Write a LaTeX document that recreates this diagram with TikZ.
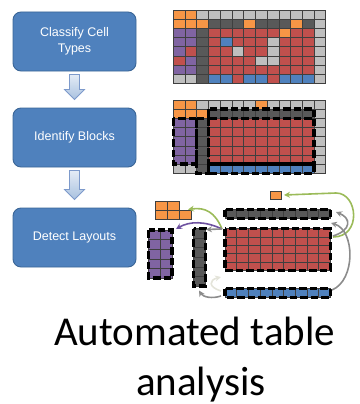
\documentclass[tikz,border=0pt]{standalone}
\usepackage{fontspec}
\setmainfont{Liberation Sans}
\newfontfamily\captionfont{Carlito}
\usetikzlibrary{arrows.meta,calc}

% cell colours
\definecolor{cO}{HTML}{F79646}
\definecolor{cG}{HTML}{BFBFBF}
\definecolor{cD}{HTML}{595959}
\definecolor{cR}{HTML}{C0504D}
\definecolor{cP}{HTML}{8064A2}
\definecolor{cB}{HTML}{4F81BD}
\definecolor{cellline}{HTML}{3F3F3F}
% flow chart colours
\definecolor{boxblue}{HTML}{4F81BD}
\definecolor{boxedge}{HTML}{3A6596}
\definecolor{arrowtop}{HTML}{E4ECF6}
\definecolor{arrowbot}{HTML}{A9C1DF}
\definecolor{arrowedge}{HTML}{7D9ACB}
\definecolor{linkgreen}{HTML}{9BBB59}
\definecolor{linkpurple}{HTML}{6E52A0}
\definecolor{linkgrey}{HTML}{8C8C8C}
\definecolor{linkfaint}{HTML}{E4E4DA}

% one row of coloured cells: x0, ytop, width, height, colour letters
\newcommand{\gridrow}[5]{%
  \foreach \c [count=\i from 0] in {#5} {
    \filldraw[fill=c\c, draw=cellline, line width=0.5pt]
      ({#1+\i*#3},{#2}) rectangle ++(#3,#4);
  }}

% hollow down arrow between two stage boxes
\newcommand{\flowdown}[2]{%
  \draw[flowarrow] let \p1=(#1.south), \p2=(#2.north) in
    (\x1-5pt,\y1-3pt) -- (\x1+5pt,\y1-3pt) -- (\x1+5pt,\y2+18pt)
    -- (\x1+10pt,\y2+18pt) -- (\x1,\y2+8pt) -- (\x1-10pt,\y2+18pt)
    -- (\x1-5pt,\y2+18pt) -- cycle;}

\tikzset{
  stage/.style={draw=boxedge, fill=boxblue, line width=0.9pt,
    rounded corners=8pt, minimum width=123pt, minimum height=59pt,
    text=white, align=center, inner sep=0pt,
    font=\fontsize{12.5}{16.5}\selectfont},
  flowarrow/.style={draw=arrowedge, line width=0.8pt,
    top color=arrowtop, bottom color=arrowbot},
  blockbox/.style={draw=black, line width=3.4pt, dash pattern=on 7.5pt off 3pt},
  link/.style={line width=1.6pt, -{Stealth[length=6pt,width=6pt]}},
  captext/.style={anchor=base, inner sep=0pt,
    font=\captionfont\fontsize{41}{50}\selectfont}
}

\begin{document}
\begin{tikzpicture}[x=1pt,y=-1pt]
\useasboundingbox (0,0) rectangle (359,404);

% ---- stages ----
\node[stage] (s1) at (74.5,41.5) {Classify Cell\\Types};
\node[stage] (s2) at (74.5,137.5) {Identify Blocks};
\node[stage] (s3) at (74.5,237.5) {Detect Layouts};
\flowdown{s1}{s2}
\flowdown{s2}{s3}

% ---- cell type grid ----
\def\cw{11.72}\def\ch{9.16}
\gridrow{173.3}{10+0*\ch}{\cw}{\ch}{O,O,G,G,G,G,G,G,G,G,G,G,G}
\gridrow{173.3}{10+1*\ch}{\cw}{\ch}{O,O,O,D,D,D,O,D,D,D,O,D,G}
\gridrow{173.3}{10+2*\ch}{\cw}{\ch}{P,P,D,R,R,R,R,R,R,O,R,R,G}
\gridrow{173.3}{10+3*\ch}{\cw}{\ch}{P,P,D,R,B,R,R,R,G,R,R,R,G}
\gridrow{173.3}{10+4*\ch}{\cw}{\ch}{P,R,D,R,R,G,R,R,G,R,R,R,G}
\gridrow{173.3}{10+5*\ch}{\cw}{\ch}{R,P,D,R,R,R,R,G,G,R,R,R,G}
\gridrow{173.3}{10+6*\ch}{\cw}{\ch}{P,P,D,R,R,R,R,R,R,R,R,R,G}
\gridrow{173.3}{10+7*\ch}{\cw}{\ch}{G,G,D,B,B,R,B,B,R,B,B,B,G}

% ---- block grid ----
\gridrow{173.3}{100+0*\ch}{\cw}{\ch}{O,O,G,G,G,G,G,O,G,G,G,G,G}
\gridrow{173.3}{100+1*\ch}{\cw}{\ch}{O,O,O,D,D,D,D,D,D,D,D,D,G}
\foreach \r in {2,...,6}
  \gridrow{173.3}{100+\r*\ch}{\cw}{\ch}{P,P,D,R,R,R,R,R,R,R,R,R,G}
\gridrow{173.3}{100+7*\ch}{\cw}{\ch}{G,G,D,B,B,B,B,B,B,B,B,B,G}
% detected blocks
\draw[blockbox] (173.3+3*\cw,100+1*\ch) rectangle (173.3+12*\cw,100+2*\ch);
\draw[blockbox] (173.3+3*\cw,100+2*\ch) rectangle (173.3+12*\cw,100+7*\ch);
\draw[blockbox] (173.3+3*\cw,100+7*\ch) rectangle (173.3+12*\cw,100+8*\ch);
\draw[blockbox] (173.3,100+2*\ch) rectangle (173.3+2*\cw,100+7*\ch);
\draw[blockbox] (173.3+2*\cw,100+2*\ch) rectangle (173.3+3*\cw,100+8*\ch);

% ---- layout pieces ----
% single orange cell
\gridrow{270}{191}{11.7}{8.5}{O}
% orange corner
\gridrow{155.7}{201}{11.7}{9.1}{O,O}
\gridrow{155.7}{210.1}{11.7}{9.1}{O,O,O}
% header row
\gridrow{225}{209.5}{11.7}{9}{D,D,D,D,D,D,D,D,D}
\draw[blockbox] (225,209.5) rectangle (330.3,218.5);
% data block
\foreach \r in {0,...,4}
  \gridrow{225}{228.5+\r*8.4}{11.7}{8.4}{R,R,R,R,R,R,R,R,R}
\draw[blockbox] (225,228.5) rectangle (330.3,270.5);
% blue row
\gridrow{225}{288.5}{11.7}{9}{B,B,B,B,B,B,B,B,B}
\draw[blockbox] (225,288.5) rectangle (330.3,297.5);
% dark column
\foreach \r in {0,...,5}
  \gridrow{193.5}{228.5+\r*9.6}{11.7}{9.6}{D}
\draw[blockbox] (193.5,228.5) rectangle (205.2,286.1);
% purple block
\foreach \r in {0,...,4}
  \gridrow{148.5}{230+\r*9.6}{11.7}{9.6}{P,P}
\draw[blockbox] (148.5,230) rectangle (171.9,278);

% ---- link end points ----
\coordinate (dataNW) at (222,229);
\coordinate (dataE) at (333,237);
\coordinate (dataE2) at (333,236);
\coordinate (cellE) at (284,195);
\coordinate (cornerE) at (188,209.5);
\coordinate (purpleNE) at (176,229);
\coordinate (darkNE) at (206,229.5);
\coordinate (darkS) at (199,290.5);
\coordinate (headE) at (336,212);
\coordinate (headSE) at (331,223);
\coordinate (blueE) at (332,290);
\coordinate (blueW) at (221,296);
\coordinate (blueNW) at (221,291);
\coordinate (dataSW) at (221,277);

% ---- links ----
\draw[link, linkgreen] (dataE) .. controls (362,237) and (358,193) .. (336,193) -- (cellE);
\draw[link, linkgreen] (dataNW) .. controls (215,212) and (205,207) .. (cornerE);
\draw[link, linkpurple] (dataNW) .. controls (205,221) and (190,221) .. (purpleNE);
\draw[link, linkgrey] (dataNW) -- (darkNE);
\draw[link, linkgrey] (dataE2) .. controls (352,230) and (351,218) .. (headE);
\draw[link, linkgrey] (blueE) .. controls (356,280) and (355,230) .. (headSE);
\draw[link, linkgrey] (blueW) .. controls (212,299) and (203,297) .. (darkS);
\draw[link, linkfaint] (blueNW) .. controls (208,287) and (209,280) .. (dataSW);

% ---- caption ----
\node[captext] (cap1) at (194.5,345) {Automated table};
\node[captext] (cap2) at (201,395) {analysis};
\end{tikzpicture}
\end{document}
